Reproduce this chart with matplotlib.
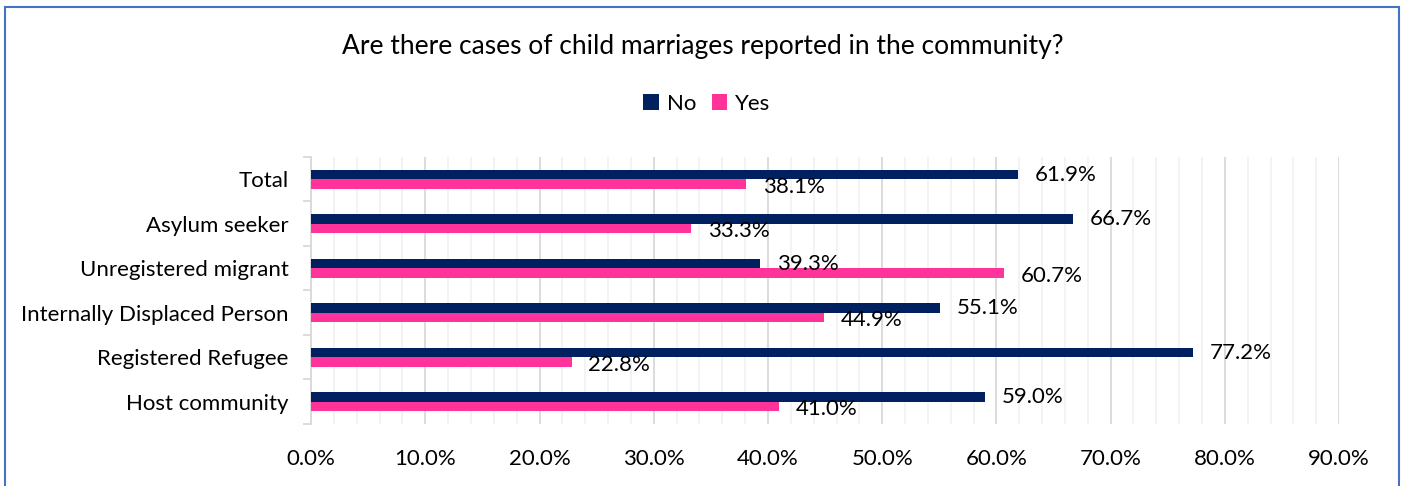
import matplotlib
matplotlib.use("Agg")
import matplotlib.pyplot as plt
import numpy as np
from matplotlib.patches import Rectangle
from matplotlib.ticker import MultipleLocator, FuncFormatter

plt.rcParams['font.family'] = ['Lato', 'DejaVu Sans']

# categories bottom -> top
categories = ["Host community", "Registered Refugee", "Internally Displaced Person",
              "Unregistered migrant", "Asylum seeker", "Total"]
no_vals = [59.0, 77.2, 55.1, 39.3, 66.7, 61.9]
yes_vals = [41.0, 22.8, 44.9, 60.7, 33.3, 38.1]

NAVY = "#002060"
PINK = "#FF3399"
FS = 16

fig = plt.figure(figsize=(14.05, 4.86), dpi=100)
ax = fig.add_axes([0.2214, 0.1276, 0.7317, 0.5494])

y = np.arange(len(categories))
h = 0.21
ax.barh(y + h / 2, no_vals, height=h, color=NAVY, label="No", zorder=3)
ax.barh(y - h / 2, yes_vals, height=h, color=PINK, label="Yes", zorder=3)

# value labels next to bar ends
for i in range(len(categories)):
    ax.annotate(f"{no_vals[i]:.1f}%", (no_vals[i], y[i] + h / 2), xytext=(12, 0),
                textcoords="offset points", va="center", ha="left", fontsize=FS)
    ax.annotate(f"{yes_vals[i]:.1f}%", (yes_vals[i], y[i] - h / 2), xytext=(12, -2),
                textcoords="offset points", va="center", ha="left", fontsize=FS)

ax.set_xlim(0, 90)
ax.set_ylim(-0.5, len(categories) - 0.5)
ax.xaxis.set_major_locator(MultipleLocator(10))
ax.xaxis.set_minor_locator(MultipleLocator(2))
ax.xaxis.set_major_formatter(FuncFormatter(lambda v, p: f"{v:.1f}%"))
ax.grid(axis="x", which="major", color="#D9D9D9", lw=1.3, zorder=0)
ax.grid(axis="x", which="minor", color="#F2F2F2", lw=1.3, zorder=0)
ax.tick_params(axis="x", which="both", length=0, labelsize=FS, pad=18)

ax.set_yticks(y)
ax.set_yticklabels(categories)
ax.set_yticks(np.arange(-0.5, len(categories)), minor=True)
ax.tick_params(axis="y", which="major", length=0, labelsize=FS, pad=16)
ax.tick_params(axis="y", which="minor", length=6, color="#D9D9D9", width=1.3)

for s in ["top", "right", "bottom"]:
    ax.spines[s].set_visible(False)
ax.spines["left"].set_color("#D9D9D9")
ax.spines["left"].set_linewidth(1.3)

fig.text(0.5, 0.905, "Are there cases of child marriages reported in the community?",
         ha="center", va="center", fontsize=19)
fig.legend(loc="center", bbox_to_anchor=(0.503, 0.786), ncol=2, frameon=False,
           fontsize=FS, handlelength=0.7, handleheight=0.7, handletextpad=0.35,
           columnspacing=0.7)

# outer chart border
fig.patches.append(Rectangle((5 / 1405, -0.05), 1394 / 1405, 1.05 - 7 / 486,
                             transform=fig.transFigure, fill=False,
                             edgecolor="#4472C4", lw=1.5))

fig.savefig("out.png", dpi=100)
